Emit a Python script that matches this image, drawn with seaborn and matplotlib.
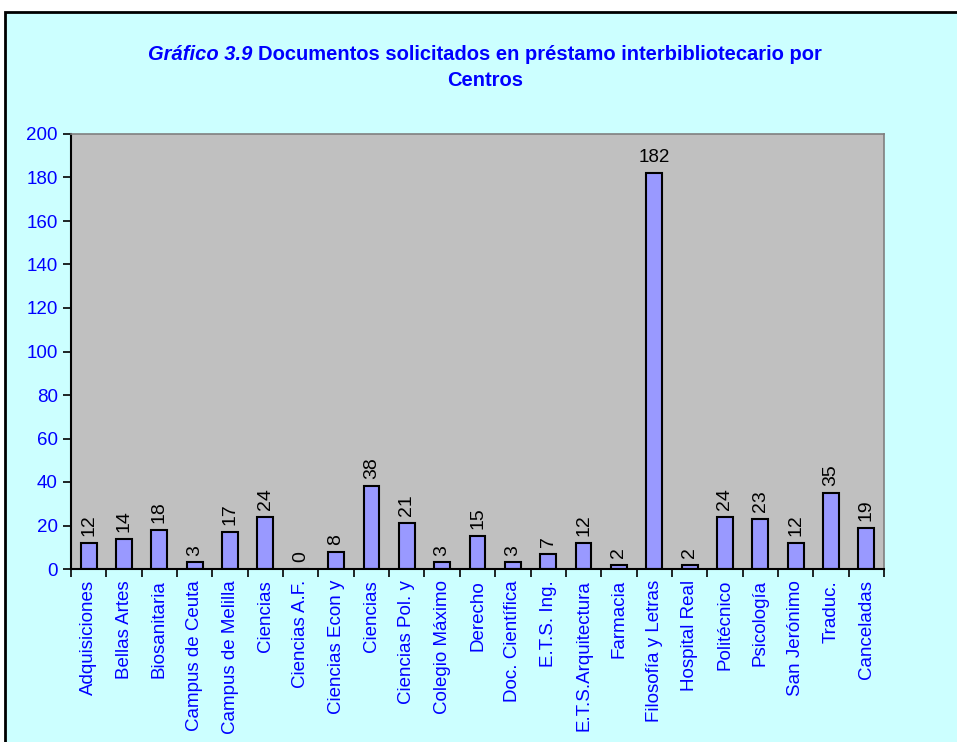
import numpy as np
import pandas as pd
import matplotlib
matplotlib.use("Agg")
import matplotlib.pyplot as plt
import seaborn as sns
from matplotlib.patches import Rectangle

# Data
centros = ["Adquisiciones", "Bellas Artes", "Biosanitaria", "Campus de Ceuta",
           "Campus de Melilla", "Ciencias", "Ciencias A.F.", "Ciencias Econ y",
           "Ciencias", "Ciencias Pol. y", "Colegio Máximo", "Derecho",
           "Doc. Científica", "E.T.S. Ing.", "E.T.S.Arquitectura", "Farmacia",
           "Filosofía y Letras", "Hospital Real", "Politécnico", "Psicología",
           "San Jerónimo", "Traduc.", "Canceladas"]
documentos = [12, 14, 18, 3, 17, 24, 0, 8, 38, 21, 3, 15, 3, 7, 12, 2, 182, 2,
              24, 23, 12, 35, 19]
y_ticks = [0, 20, 40, 60, 80, 100, 120, 140, 160, 180, 200]

sns.set_style("white")
plt.rcParams["font.family"] = ["Liberation Sans", "DejaVu Sans"]

blue = "#0000FF"
df = pd.DataFrame({"pos": np.arange(len(centros)), "valor": documentos})

fig = plt.figure(figsize=(9.57, 7.42), dpi=100)
fig.patch.set_facecolor("white")
# cyan chart frame, behind everything
fig.patches.append(Rectangle((5 / 957, -0.1), 1.0, 1 - 12 / 742 + 0.1,
                             transform=fig.transFigure, facecolor="#CCFFFF",
                             edgecolor="black", linewidth=2, zorder=-10))

ax = fig.add_axes([71 / 957, 1 - 569 / 742, 813 / 957, 435 / 742])
ax.set_facecolor("#C0C0C0")
sns.barplot(data=df, x="pos", y="valor", color="#9999FF", width=0.45,
            edgecolor="black", linewidth=1.5, saturation=1, ax=ax)

ax.set_xlim(-0.5, len(centros) - 0.5)
ax.set_ylim(0, 200)
ax.set_yticks(y_ticks)
ax.set_xticks(range(len(centros)))
ax.set_xticklabels(centros, rotation=90, color=blue, fontsize=13.5)
ax.set_xticks(np.arange(-0.5, len(centros), 1), minor=True)
ax.tick_params(axis="x", which="major", length=0, pad=8)
ax.tick_params(axis="x", which="minor", length=6, width=1.2, direction="out",
               bottom=True, color="black")
ax.tick_params(axis="y", length=6, width=1.2, direction="out", left=True,
               labelcolor=blue, labelsize=13.5, color="black")
ax.set_xlabel("")
ax.set_ylabel("")

for side in ["left", "bottom"]:
    ax.spines[side].set_color("black")
    ax.spines[side].set_linewidth(1.5)
for side in ["top", "right"]:
    ax.spines[side].set_color("#808080")
    ax.spines[side].set_linewidth(1.2)

# value labels
texts = ax.bar_label(ax.containers[0], labels=[str(v) for v in documentos],
                     rotation=90, padding=5, fontsize=14, color="black")
imax = int(np.argmax(documentos))
texts[imax].set_rotation(0)
texts[imax].set_fontsize(13.5)

# title with italic "Gráfico 3.9"
y1 = 1 - 55 / 742
t1 = fig.text(0, y1, "Gráfico 3.9 ", fontsize=14.5, fontweight="bold",
              fontstyle="italic", color=blue, va="center")
t2 = fig.text(0, y1, "Documentos solicitados en préstamo interbibliotecario por",
              fontsize=14.5, fontweight="bold", color=blue, va="center")
fig.canvas.draw()
r = fig.canvas.get_renderer()
w1 = t1.get_window_extent(r).width / fig.bbox.width
w2 = t2.get_window_extent(r).width / fig.bbox.width
x0 = 485 / 957 - (w1 + w2) / 2
t1.set_x(x0)
t2.set_x(x0 + w1)
fig.text(485 / 957, 1 - 81 / 742, "Centros", fontsize=14.5, fontweight="bold",
         color=blue, ha="center", va="center")

fig.savefig("out.png", dpi=100, facecolor=fig.get_facecolor())
